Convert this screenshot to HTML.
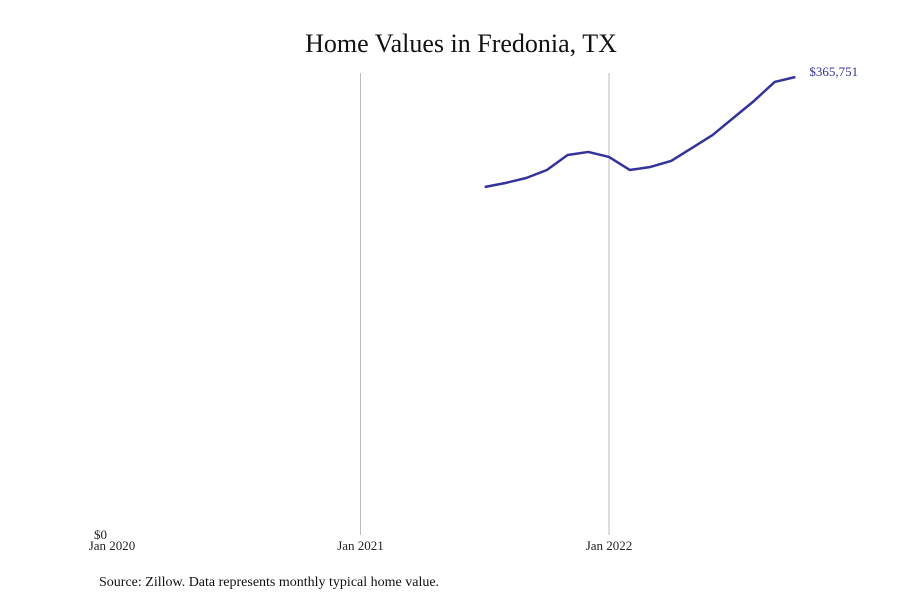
<!DOCTYPE html>
<html><head><meta charset="utf-8"><style>
body{margin:0;background:#fff;font-family:"Liberation Serif",serif;}
svg text{font-family:"Liberation Serif",serif;}
</style></head><body>
<svg width="900" height="600" id="c">
<text x="461" y="52" text-anchor="middle" font-size="26" fill="#111">Home Values in Fredonia, TX</text>
<text x="99" y="586" font-size="14" fill="#111">Source: Zillow. Data represents monthly typical home value.</text>
<g id="g"></g>
</svg>
<script>
const months=[18,19,20,21,22,23,24,25,26,27,28,29,30,31,32,33]; // months since Jan 2020
const values=[277900,281100,285100,291500,303500,305900,301900,291500,293900,298700,309000,319400,333000,346600,361800,365751];
const xTickMonths=[0,12,24];
const xTickLabels=["Jan 2020","Jan 2021","Jan 2022"];
const endLabel="$365,751";
const x=m=>112+m*(609-112)/24;
const y=v=>535-v*(535-77)/365751;
const g=document.getElementById('g');
const ns='http://www.w3.org/2000/svg';
function mk(t,a){const e=document.createElementNS(ns,t);for(const k in a)e.setAttribute(k,a[k]);g.appendChild(e);return e;}
xTickMonths.forEach((m,i)=>{
 if(i>0){const l=mk('line',{x1:x(m),x2:x(m),y1:73,y2:535,stroke:'#bbb','stroke-width':1});
 
 }
 const t=mk('text',{x:x(m),y:550,'text-anchor':'middle','font-size':13,fill:'#222'});t.textContent=xTickLabels[i];
 
 
});
const z=mk('text',{x:94,y:539,'font-size':13,fill:'#222'});z.textContent='$0';


const p=mk('path',{d:months.map((m,i)=>(i?'L':'M')+x(m)+','+y(values[i])).join(''),fill:'none',stroke:'#33339a','stroke-width':2.5,'stroke-linejoin':'round'});


const n=months.length-1;
const e=mk('text',{x:x(months[n])+14,y:y(values[n])-1,'font-size':13,fill:'#33339a'});e.textContent=endLabel;


</script>
</body></html>
